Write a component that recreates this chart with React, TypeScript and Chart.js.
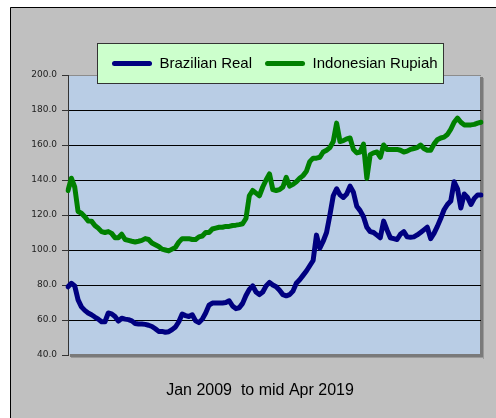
import React, { useEffect, useRef } from 'react';
import { Chart, registerables } from 'chart.js';

Chart.register(...registerables);

const MONTH_NAMES = ['Jan', 'Feb', 'Mar', 'Apr', 'May', 'Jun', 'Jul', 'Aug', 'Sep', 'Oct', 'Nov', 'Dec'];
const START_YEAR = 2009;
const MONTH_COUNT = 124; // Jan 2009 .. Apr 2019

const categories: string[] = [];
for (let i = 0; i < MONTH_COUNT; i++) {
  categories.push(`${MONTH_NAMES[i % 12]} ${START_YEAR + Math.floor(i / 12)}`);
}

const seriesNames = ['Brazilian Real', 'Indonesian Rupiah'];

const brazilianReal = [
  79, 81, 79.5, 71.5, 67.5, 65.5, 64, 63, 61.7, 60.5,
  59, 59, 64, 63.5, 62, 59.4, 61, 60.5, 60.2, 59.5,
  58, 57.7, 57.7, 57.5, 57, 56.3, 55, 53.5, 53.5, 53,
  53.3, 54.5, 56, 59, 63.4, 62.5, 62, 63, 59.5, 58.5,
  60.5, 64, 68.5, 69.7, 69.7, 69.7, 69.7, 70, 71, 68,
  66.5, 67, 69.5, 74, 77.5, 79.5, 76, 74.5, 76, 79.5,
  81.5, 80, 79, 77, 74.5, 73.8, 74.5, 76.5, 81, 83,
  85.5, 88, 91, 94, 108.5, 101, 105, 110, 120, 131,
  135, 131.5, 130, 132, 136.5, 133, 125, 122.5, 119, 113,
  110.5, 110, 108.5, 107, 116.5, 111.5, 107, 106.5, 106, 109,
  110.5, 107.5, 107.3, 107.5, 108.6, 110, 111.5, 113, 106.5, 109.5,
  113.5, 118, 123, 126, 128, 139, 135, 124, 132, 130,
  126, 129.5, 131.5, 131.5,
];

const indonesianRupiah = [
  134, 141, 136, 122, 121, 119, 116.6, 116.5, 114, 112.5,
  110.5, 110, 110.5, 109.5, 107, 107, 109, 106, 105.5, 105,
  104.6, 105, 105.5, 106.5, 106, 104, 103, 102, 100.5, 100,
  99.5, 100.5, 101.5, 104.5, 106.5, 106.5, 106.5, 106, 106, 107.5,
  108, 110, 110, 112, 112.5, 113, 113, 113.5, 113.5, 114,
  114.2, 114.5, 115, 118, 131, 134, 132.5, 131, 136, 140,
  143.5, 134.5, 134, 134.5, 136, 141.5, 136.5, 137.5, 139, 141,
  142.5, 145, 150.5, 152.5, 152.5, 153, 156, 157, 158.5, 162,
  172.5, 162, 162.5, 163.5, 164, 157.5, 155.5, 156, 160.5, 141,
  154.5, 155.5, 156, 153, 160, 157.5, 157.5, 157.5, 157.5, 157,
  156, 156.5, 157.5, 158, 158.5, 160, 158, 157, 157, 160.5,
  163, 164, 164.5, 166, 169, 173, 175.3, 173, 171.5, 171.5,
  171.5, 171.8, 172.5, 173,
];

const yTicks = [40, 60, 80, 100, 120, 140, 160, 180, 200];
const xTitle = 'Jan 2009  to mid Apr 2019';

const seriesColors = ['#000080', '#008000'];
const SANS = '"Liberation Sans", Arial, sans-serif';

const framePlugin = {
  id: 'excelFrame',
  afterLayout(chart: any) {
    const lg = chart.legend;
    if (lg) {
      lg.left = 99;
      lg.right = 475;
      lg.width = 376;
      lg.top = 43;
      lg.bottom = 84;
      lg.height = 41;
    }
    const y = chart.scales.y;
    if (y) {
      // widen the label clip area so the tick labels are not cut off
      y.left = 12;
    }
  },
  beforeDraw(chart: any) {
    const { ctx, width, height } = chart;
    const { left, top, right, bottom } = chart.chartArea;
    ctx.save();
    ctx.fillStyle = '#ffffff';
    ctx.fillRect(0, 0, width, height);
    // outer grey frame
    ctx.fillStyle = '#c0c0c0';
    ctx.fillRect(10, 7, width, height);
    ctx.strokeStyle = '#000000';
    ctx.lineWidth = 1;
    ctx.beginPath();
    ctx.moveTo(10.5, height + 2);
    ctx.lineTo(10.5, 7.5);
    ctx.lineTo(width + 2, 7.5);
    ctx.stroke();
    // plot shadow
    ctx.fillStyle = '#7a7a7a';
    ctx.fillRect(right - 1, top + 2, 3, bottom - top + 1);
    ctx.fillRect(left + 2, bottom - 1, right - left + 1, 3);
    ctx.fillStyle = '#9a9a9a';
    ctx.fillRect(right + 2, top + 3, 1, bottom - top + 1);
    ctx.fillRect(left + 3, bottom + 2, right - left, 1);
    // plot background
    ctx.fillStyle = '#b9cde5';
    ctx.fillRect(left, top, right - left - 1, bottom - top - 1);
    // top border
    ctx.strokeStyle = '#8c8c8c';
    ctx.beginPath();
    ctx.moveTo(left, top + 0.5);
    ctx.lineTo(right, top + 0.5);
    ctx.stroke();
    // legend box
    ctx.fillStyle = '#ccffcc';
    ctx.fillRect(97, 43, 347, 41);
    ctx.strokeStyle = '#333333';
    ctx.strokeRect(97.5, 43.5, 346, 40);
    ctx.restore();
  },
};

export default function App() {
  const canvasRef = useRef<HTMLCanvasElement | null>(null);

  useEffect(() => {
    document.body.style.margin = '0';
    const canvas = canvasRef.current;
    if (!canvas) return;
    const chart = new Chart(canvas, {
      type: 'line',
      data: {
        labels: categories,
        datasets: [
          {
            label: seriesNames[0],
            data: brazilianReal,
            borderColor: seriesColors[0],
            backgroundColor: seriesColors[0],
            borderWidth: 5,
            pointRadius: 0,
            tension: 0,
            borderJoinStyle: 'round',
            borderCapStyle: 'round',
          },
          {
            label: seriesNames[1],
            data: indonesianRupiah,
            borderColor: seriesColors[1],
            backgroundColor: seriesColors[1],
            borderWidth: 5,
            pointRadius: 0,
            tension: 0,
            borderJoinStyle: 'round',
            borderCapStyle: 'round',
          },
        ],
      },
      options: {
        responsive: false,
        animation: false,
        devicePixelRatio: 1,
        layout: { padding: { left: 39, right: 15, top: 37, bottom: 14.8 } },
        plugins: {
          legend: {
            display: true,
            position: 'top',
            align: 'start',
            labels: {
              boxWidth: 40,
              boxHeight: 5,
              padding: 13,
              color: '#000',
              font: { family: SANS, size: 15 },
              useBorderRadius: true,
              borderRadius: 2.5,
              generateLabels: (c: any) =>
                c.data.datasets.map((ds: any, i: number) => ({
                  text: ds.label,
                  fillStyle: ds.borderColor,
                  strokeStyle: ds.borderColor,
                  lineWidth: 0,
                  hidden: false,
                  datasetIndex: i,
                  fontColor: '#000',
                  borderRadius: 2.5,
                })),
            },
          },
          title: {
            display: true,
            position: 'bottom',
            text: xTitle,
            color: '#000',
            font: { family: SANS, size: 16, weight: 'normal' },
            padding: { top: 26, bottom: 3 },
          },
          tooltip: { enabled: false },
        },
        scales: {
          x: { type: 'category', display: false, offset: false },
          y: {
            min: 40,
            max: 200,
            afterFit: (s: any) => {
              s.width = 29;
            },
            afterBuildTicks: (s: any) => {
              s.ticks = yTicks.map((v) => ({ value: v }));
            },
            ticks: {
              callback: (v: any) => Number(v).toFixed(1),
              font: { family: '"DejaVu Sans", sans-serif', size: 9 },
              color: '#222',
              padding: 5,
            },
            grid: {
              color: (c: any) =>
                c.tick && (c.tick.value === 200 || c.tick.value === 40) ? 'rgba(0,0,0,0)' : '#000',
              tickColor: '#333',
              tickLength: 6,
              lineWidth: 1,
            },
            border: { display: true, color: '#333', width: 1 },
          },
        },
      },
      plugins: [framePlugin],
    } as any);
    return () => chart.destroy();
  }, []);

  return (
    <div style={{ width: 496, height: 418 }}>
      <canvas ref={canvasRef} width={496} height={418} style={{ display: 'block' }} />
    </div>
  );
}
